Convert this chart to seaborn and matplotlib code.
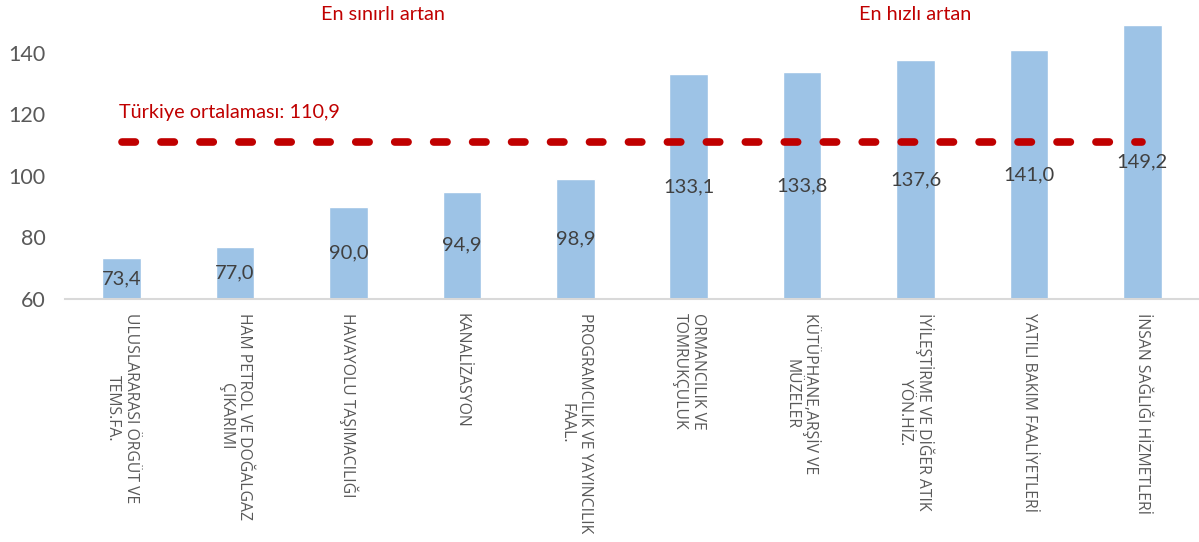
import pandas as pd
import seaborn as sns
import matplotlib.pyplot as plt
from matplotlib.font_manager import FontProperties

categories = [
    "ULUSLARARASI ÖRGÜT VE\nTEMS.FA.",
    "HAM PETROL VE DOĞALGAZ\nÇIKARIMI",
    "HAVAYOLU TAŞIMACILIĞI",
    "KANALİZASYON",
    "PROGRAMCILIK VE YAYINCILIK\nFAAL.",
    "ORMANCILIK VE\nTOMRUKÇULUK",
    "KÜTÜPHANE,ARŞİV VE\nMÜZELER",
    "İYİLEŞTİRME VE DİĞER ATIK\nYÖN.HİZ.",
    "YATILI BAKIM FAALİYETLERİ",
    "İNSAN SAĞLIĞI HİZMETLERİ",
]
values = [73.4, 77.0, 90.0, 94.9, 98.9, 133.1, 133.8, 137.6, 141.0, 149.2]
value_labels = ["73,4", "77,0", "90,0", "94,9", "98,9", "133,1", "133,8", "137,6", "141,0", "149,2"]
turkey_avg = 110.9
y_ticks = [60, 80, 100, 120, 140]

BAR_COLOR = "#9DC3E6"
RED = "#C00000"
Y_MIN, Y_MAX = 60, 157.2

sns.set_theme(style="white")
plt.rcParams['font.family'] = ['Lato', 'DejaVu Sans']

df = pd.DataFrame({'sector': categories, 'value': values})

fig = plt.figure(figsize=(11.99, 5.42), dpi=100)
ax = fig.add_axes([65 / 1199, 1 - 299 / 542, 1 - 65 / 1199, 299 / 542])

sns.barplot(data=df, x='sector', y='value', color=BAR_COLOR, width=0.34,
            saturation=1, ax=ax)
ax.set_ylim(Y_MIN, Y_MAX)
ax.set_xlim(-0.5, len(categories) - 0.5)

# value labels centred in the visible part of each bar
for i, (v, lab) in enumerate(zip(values, value_labels)):
    ax.text(i, (v + Y_MIN) / 2, lab, ha='center', va='center',
            fontsize=14.5, color='#404040')

# Türkiye average line
ax.plot([0, len(categories) - 1], [turkey_avg, turkey_avg], color=RED,
        lw=5.5, linestyle=(0, (1.75, 3.35)), dash_capstyle='round')
ax.text(-0.02, 120.6, "Türkiye ortalaması: 110,9", color=RED, fontsize=14.3,
        ha='left', va='center')

ax.text(2.3, 152.4, "En sınırlı artan", color=RED, fontsize=14.3, ha='center', va='center')
ax.text(7.0, 152.4, "En hızlı artan", color=RED, fontsize=14.3, ha='center', va='center')

ax.set_yticks(y_ticks)
ax.tick_params(axis='y', labelsize=15.5, labelcolor='#595959', length=0, pad=14)
ax.set_xticks(range(len(categories)))
xfont = FontProperties(family=['Open Sans', 'DejaVu Sans'], size=11.3)
ax.set_xticklabels(categories, rotation=270, ha='center', va='top',
                   multialignment='center', color='#595959',
                   fontproperties=xfont)
ax.tick_params(axis='x', length=0, pad=10)
ax.set_xlabel('')
ax.set_ylabel('')

for side in ['left', 'right', 'top']:
    ax.spines[side].set_visible(False)
ax.spines['bottom'].set_color('#D9D9D9')
ax.spines['bottom'].set_linewidth(1.5)

fig.savefig('out.png', dpi=100)
